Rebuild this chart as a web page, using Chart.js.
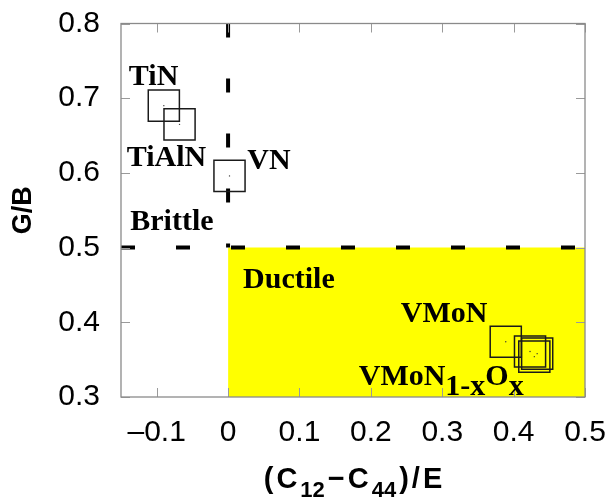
<!DOCTYPE html>
<html lang="en">

<head>
    <meta charset="UTF-8">
    <script src="https://cdn.jsdelivr.net/npm/chart.js"></script>
    <title>G/B vs Cauchy pressure</title>
    <style>
        body {
            margin: 0;
            background: #ffffff;
        }
    </style>
</head>

<body>
    <canvas id="ductilityChart" width="614" height="502"></canvas>

    <script>
        // compounds (x = (C12-C44)/E, y = G/B)
        const compoundNames = ['TiN', 'TiAlN', 'VN', 'VMoN', 'VMoNO-1', 'VMoNO-2', 'VMoNO-3'];
        const cauchyValues = [-0.090, -0.068, 0.002, 0.389, 0.423, 0.429, 0.433];
        const pughValues = [0.690, 0.665, 0.596, 0.374, 0.361, 0.354, 0.358];

        // Pugh / Pettifor criteria
        const cauchyLimit = 0;
        const pughLimit = 0.5;

        // axes
        const xMin = -0.15, xMax = 0.5;
        const yMin = 0.3, yMax = 0.8;
        const xTicks = [-0.1, 0, 0.1, 0.2, 0.3, 0.4, 0.5];
        const xTickLabels = ['\u20130.1', '0', '0.1', '0.2', '0.3', '0.4', '0.5'];
        const yTicks = [0.3, 0.4, 0.5, 0.6, 0.7, 0.8];
        const yTickLabels = ['0.3', '0.4', '0.5', '0.6', '0.7', '0.8'];

        // text labels in the plot, [text, subscript?] pieces, anchored in data units
        const annotations = [
            { parts: [['TiN', 0]], x: -0.139, y: 0.718 },
            { parts: [['TiAlN', 0]], x: -0.142, y: 0.609 },
            { parts: [['VN', 0]], x: 0.027, y: 0.605 },
            { parts: [['Brittle', 0]], x: -0.137, y: 0.523 },
            { parts: [['Ductile', 0]], x: 0.021, y: 0.446 },
            { parts: [['VMoN', 0]], x: 0.242, y: 0.401 },
            { parts: [['VMoN', 0], ['1-x', 1], ['O', 0], ['x', 1]], x: 0.183, y: 0.316 }
        ];

        const points = cauchyValues.map((v, i) => ({ x: v, y: pughValues[i] }));

        // frame + inward ticks + labels + x title with subscripts
        const decorPlugin = {
            id: 'decor',
            afterDatasetsDraw(chart) {
                const ctx = chart.ctx;
                const a = chart.chartArea;
                const xs = chart.scales.x, ys = chart.scales.y;
                ctx.save();
                ctx.strokeStyle = '#9a9a9a';
                ctx.lineWidth = 1;
                ctx.beginPath();
                xTicks.forEach(v => {
                    const px = Math.round(xs.getPixelForValue(v)) + 0.5;
                    ctx.moveTo(px, a.bottom); ctx.lineTo(px, a.bottom - 9);
                    ctx.moveTo(px, a.top); ctx.lineTo(px, a.top + 9);
                });
                yTicks.forEach(v => {
                    const py = Math.round(ys.getPixelForValue(v)) + 0.5;
                    ctx.moveTo(a.left, py); ctx.lineTo(a.left + 9, py);
                    ctx.moveTo(a.right, py); ctx.lineTo(a.right - 9, py);
                });
                ctx.stroke();
                ctx.strokeStyle = '#8a8a8a';
                ctx.lineWidth = 1.3;
                ctx.strokeRect(a.left, a.top, a.right - a.left, a.bottom - a.top);

                // labels
                ctx.fillStyle = '#000';
                ctx.textBaseline = 'alphabetic';
                ctx.textAlign = 'left';
                ctx.font = "bold 30px 'Liberation Serif'";
                annotations.forEach(lab => {
                    let px = xs.getPixelForValue(lab.x);
                    const py = ys.getPixelForValue(lab.y);
                    lab.parts.forEach(([t, sub]) => {
                        ctx.fillText(t, px, py + (sub ? 10 : 0));
                        px += ctx.measureText(t).width;
                    });
                });

                // x title: (C12-C44)/E
                const titleParts = [['(', 0], ['C', 0], ['12', 1], ['\u2212', 0], ['C', 0], ['44', 1], [')', 0], ['/', 0], ['E', 0]];
                const gap = 3;
                const fontFor = s => s ? "bold 22px 'Liberation Sans'" : "bold 29px 'Liberation Sans'";
                let total = 0;
                titleParts.forEach(([t, s]) => { ctx.font = fontFor(s); total += ctx.measureText(t).width + gap; });
                total -= gap;
                let tx = (a.left + a.right) / 2 - total / 2;
                const baseY = 488;
                titleParts.forEach(([t, s]) => {
                    ctx.font = fontFor(s);
                    ctx.fillText(t, tx, baseY + (s ? 9 : 0));
                    tx += ctx.measureText(t).width + gap;
                });
                ctx.restore();
            }
        };

        const ctx = document.getElementById('ductilityChart').getContext('2d');
        const chart = new Chart(ctx, {
            type: 'scatter',
            data: {
                datasets: [
                    {
                        // ductile region
                        data: [{ x: cauchyLimit, y: pughLimit }, { x: xMax, y: pughLimit }],
                        showLine: true,
                        borderWidth: 0,
                        pointRadius: 0,
                        fill: 'start',
                        backgroundColor: '#ffff00',
                        order: 5
                    },
                    {
                        data: [{ x: xMin, y: pughLimit }, { x: xMax, y: pughLimit }],
                        showLine: true,
                        borderColor: '#000',
                        borderWidth: 4,
                        borderDash: [14, 41],
                        pointRadius: 0,
                        fill: false,
                        order: 3
                    },
                    {
                        data: [{ x: cauchyLimit, y: yMax }, { x: cauchyLimit, y: pughLimit }],
                        showLine: true,
                        borderColor: '#000',
                        borderWidth: 4,
                        borderDash: [14, 41],
                        pointRadius: 0,
                        fill: false,
                        order: 3
                    },
                    {
                        label: 'compounds',
                        data: points,
                        pointStyle: 'rect',
                        pointRadius: 22,
                        borderColor: '#1a1a1a',
                        borderWidth: 1.5,
                        backgroundColor: 'rgba(0,0,0,0)',
                        order: 2
                    },
                    {
                        data: points,
                        pointStyle: 'circle',
                        pointRadius: 0.7,
                        borderWidth: 0,
                        backgroundColor: '#333',
                        order: 1
                    }
                ]
            },
            options: {
                responsive: false,
                devicePixelRatio: 1,
                animation: false,
                layout: { padding: { top: 20, right: 29, left: 0, bottom: 0 } },
                plugins: {
                    legend: { display: false },
                    tooltip: { enabled: false }
                },
                scales: {
                    x: {
                        type: 'linear',
                        min: xMin,
                        max: xMax,
                        afterBuildTicks: s => { s.ticks = xTicks.map(v => ({ value: v })); },
                        afterFit: s => { s.height = 105; s.paddingLeft = 0; s.paddingRight = 0; },
                        grid: { display: false, drawTicks: false },
                        border: { display: false },
                        ticks: {
                            autoSkip: false,
                            maxRotation: 0,
                            padding: 18,
                            color: '#000',
                            font: { family: "'Liberation Sans'", size: 30 },
                            callback: (v, i) => xTickLabels[i]
                        }
                    },
                    y: {
                        type: 'linear',
                        min: yMin,
                        max: yMax,
                        afterBuildTicks: s => { s.ticks = yTicks.map(v => ({ value: v })); },
                        afterFit: s => { s.width = 121; s.paddingTop = 0; s.paddingBottom = 0; },
                        grid: { display: false, drawTicks: false },
                        border: { display: false },
                        ticks: {
                            padding: 21,
                            color: '#000',
                            font: { family: "'Liberation Sans'", size: 30 },
                            callback: (v, i) => yTickLabels[i]
                        },
                        title: {
                            display: true,
                            text: 'G/B',
                            color: '#000',
                            font: { family: "'Liberation Sans'", size: 27, weight: 'bold' },
                            padding: { top: 7, bottom: 0 }
                        }
                    }
                }
            },
            plugins: [decorPlugin]
        });
    </script>
</body>

</html>
